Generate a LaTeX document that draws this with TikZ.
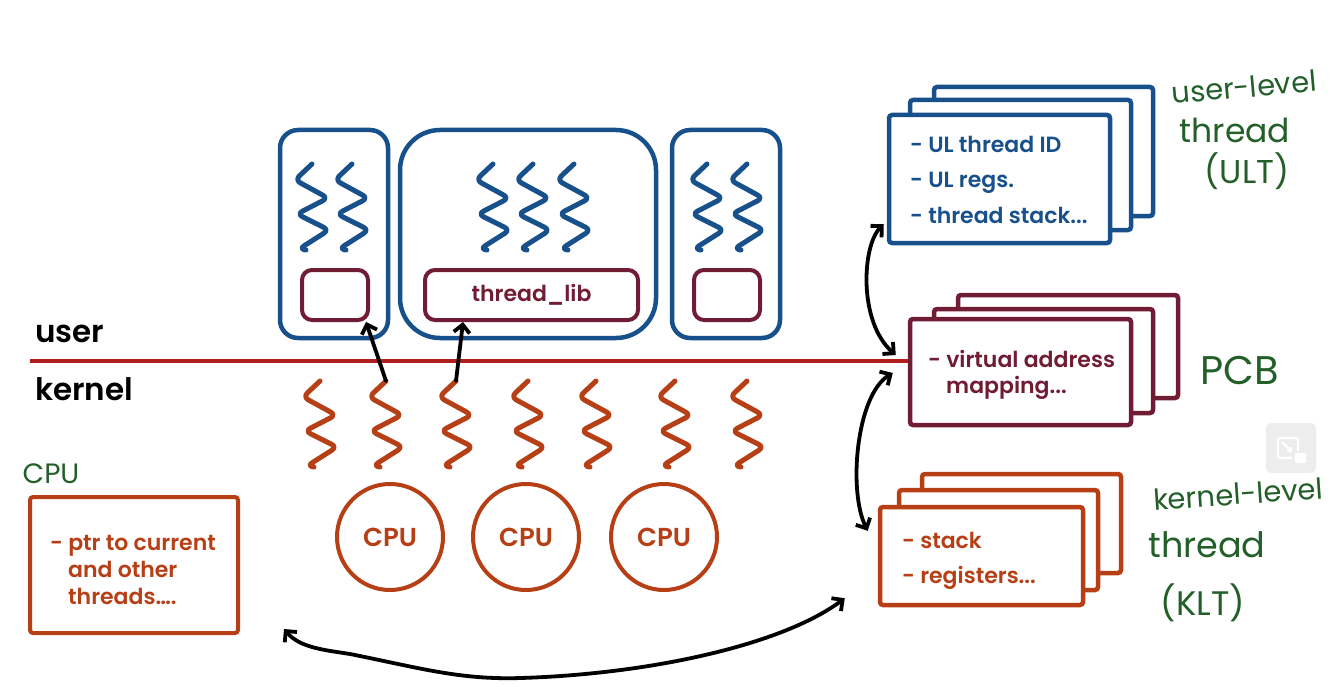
\documentclass[tikz,border=0pt]{standalone}
\usepackage{fontspec}
\setmainfont{Poppins}[BoldFont={* SemiBold}]
\newfontfamily\hand{Poppins}
\usetikzlibrary{arrows.meta}

\definecolor{ulblue}{RGB}{24,80,140}
\definecolor{pcbred}{RGB}{112,28,52}
\definecolor{rust}{RGB}{183,63,22}
\definecolor{linered}{RGB}{178,30,30}
\definecolor{inkgreen}{RGB}{35,95,40}

\begin{document}
\begin{tikzpicture}[x=1pt,y=-1pt,
  procbox/.style={draw=ulblue, line width=4.5pt, fill=white, inner sep=0pt,
    minimum height=208pt},
  libbox/.style={draw=pcbred, line width=4pt, rounded corners=10pt,
    minimum height=50pt, inner sep=0pt, text=pcbred,
    font=\fontsize{22}{22}\selectfont\bfseries},
  cpunode/.style={circle, draw=rust, line width=4pt, minimum size=106pt,
    inner sep=0pt, text=rust, font=\fontsize{26}{26}\selectfont\bfseries},
  card/.style={draw=#1, line width=4.5pt, fill=white, rounded corners=3pt,
    inner sep=0pt},
  cardtext/.style={anchor=base west, inner sep=0pt, text=#1,
    font=\fontsize{22}{22}\selectfont\bfseries},
  layer/.style={anchor=base west, inner sep=0pt,
    font=\fontsize{31}{31}\selectfont\bfseries},
  note/.style={text=inkgreen, inner sep=0pt, font=\fontsize{#1}{#1}\selectfont\hand},
  barb/.tip={Straight Barb[length=8pt,width=16pt]},
  ptr/.style={draw=black, line width=3.8pt, line cap=round, line join=round, -barb},
  dbl/.style={draw=black, line width=3.8pt, line cap=round, line join=round, barb-barb},
  squig/.pic={
    \draw[line width=5pt, line cap=round, line join=round, rounded corners=6pt]
      (18,0) -- (1,16) -- (34,34) -- (3,50) -- (35,66) -- (5,85) -- (12,86);
    \coordinate (-top) at (18,0);
  }
]
% canvas
\fill[white] (0,0) rectangle (1343,687);
\useasboundingbox (0,0) rectangle (1343,687);

% ---------- user-level processes ----------
\node[procbox, rounded corners=18pt, minimum width=108pt] (p1) at (334,234) {};
\node[procbox, rounded corners=40pt, minimum width=256pt] (p2) at (528,234) {};
\node[procbox, rounded corners=18pt, minimum width=108pt] (p3) at (726,234) {};

\node[libbox, minimum width=66pt] (lib1) at (335,295) {};
\node[libbox, minimum width=213pt] (lib2) at (531.5,295) {thread\_lib};
\node[libbox, minimum width=66pt] (lib3) at (727,295) {};

% user threads
\pic[color=ulblue] (u1) at (294,164) {squig};
\pic[color=ulblue] (u2) at (334,164) {squig};
\pic[color=ulblue] (u3) at (475,164) {squig};
\pic[color=ulblue] (u4) at (515,164) {squig};
\pic[color=ulblue] (u5) at (556,164) {squig};
\pic[color=ulblue] (u6) at (689,164) {squig};
\pic[color=ulblue] (u7) at (729,164) {squig};

% ---------- user / kernel boundary ----------
\node[layer] (userlbl) at (35,342) {user};
\node[layer] (kernlbl) at (35,400) {kernel};

% ---------- right-hand data structures ----------
% ULT
\node[card=ulblue, minimum width=219pt, minimum height=129pt] (ult3) at (1043.5,151.5) {};
\node[card=ulblue, minimum width=221pt, minimum height=130pt] (ult2) at (1020.5,165) {};
\node[card=ulblue, minimum width=221pt, minimum height=128pt] (ult) at (999.5,179) {};
\node[cardtext=ulblue] (ult-a) at (910,153) {- UL thread ID};
\node[cardtext=ulblue] (ult-b) at (910,188) {- UL regs.};
\node[cardtext=ulblue] (ult-c) at (910,223) {- thread stack...};

% PCB
\node[card=pcbred, minimum width=220pt, minimum height=103pt] (pcb3) at (1068,346.5) {};
\node[card=pcbred, minimum width=219pt, minimum height=104pt] (pcb2) at (1043.5,361) {};
\node[card=pcbred, minimum width=221pt, minimum height=106pt] (pcb) at (1020.5,372) {};
\node[cardtext=pcbred] (pcb-a) at (928,367) {- virtual address};
\node[cardtext=pcbred] (pcb-b) at (946,393) {mapping...};

% KLT
\node[card=rust, minimum width=199pt, minimum height=99pt] (klt3) at (1021.5,523.5) {};
\node[card=rust, minimum width=199pt, minimum height=100pt] (klt2) at (998.5,540) {};
\node[card=rust, minimum width=203pt, minimum height=98pt] (klt) at (981.5,556) {};
\node[cardtext=rust] (klt-a) at (902,548) {- stack};
\node[cardtext=rust] (klt-b) at (902,583) {- registers...};

% boundary line, ending at the PCB
\coordinate (lineL) at (30,361);
\draw[linered, line width=4pt] (lineL) -- (lineL -| pcb.west);

% kernel threads
\pic[color=rust] (k1) at (302,381) {squig};
\pic[color=rust] (k2) at (368,381) {squig};
\pic[color=rust] (k3) at (438,381) {squig};
\pic[color=rust] (k4) at (510,381) {squig};
\pic[color=rust] (k5) at (578,381) {squig};
\pic[color=rust] (k6) at (657,381) {squig};
\pic[color=rust] (k7) at (729,381) {squig};

% CPUs
\node[cpunode] (cpu1) at (390,537) {CPU};
\node[cpunode] (cpu2) at (526,537) {CPU};
\node[cpunode] (cpu3) at (664,537) {CPU};

% per-CPU state
\node[draw=rust, line width=4pt, rounded corners=3pt, minimum width=208pt,
  minimum height=136pt, inner sep=0pt] (cpubox) at (134,565) {};
\node[cardtext=rust] (cpu-a) at (50,550) {- ptr to current};
\node[cardtext=rust] (cpu-b) at (68,577) {and other};
\node[cardtext=rust] (cpu-c) at (68,604) {threads….};

% ---------- connectors ----------
\draw[ptr] (k2-top) -- ([xshift=-4pt]lib1.south east);
\draw[ptr] (k3-top) -- ([xshift=40pt]lib2.south west);

\draw[dbl] ([xshift=-3pt,yshift=21pt]ult.south west)
  .. controls (862,245) and (858,322) .. ([xshift=-12pt,yshift=17pt]pcb.west);
\draw[dbl] ([xshift=-15pt,yshift=-1pt]pcb.west)
  .. controls (856,395) and (848,492) .. ([xshift=-10pt,yshift=-26pt]klt.north west);
\draw[dbl] ([xshift=44pt,yshift=6pt]cpubox.south east)
  .. controls (300,648) and (325,650) .. (350,654)
  .. controls (420,668) and (460,680) .. (521,678)
  .. controls (650,674) and (782,645) .. ([xshift=-33pt,yshift=9pt]klt.south west);

% ---------- handwritten notes ----------
\node[note=29, rotate=5] (n-ult1) at (1244,87) {user-level};
\node[note=33] (n-ult2) at (1235,130) {thread};
\node[note=33] (n-ult3) at (1247,171) {(ULT)};
\node[note=40] (n-pcb) at (1240,370) {PCB};
\node[note=29, rotate=4] (n-klt1) at (1238,494) {kernel-level};
\node[note=35] (n-klt2) at (1207,545) {thread};
\node[note=34] (n-klt3) at (1203,603) {(KLT)};
\node[note=28] (n-cpu) at (51,474) {CPU};

% ---------- corner control ----------
\fill[black!7, rounded corners=6pt] (1266,423) rectangle (1316,473);
\draw[white, line width=2.2pt, rounded corners=2pt]
  (1298,451) -- (1298,438) -- (1278,438) -- (1278,458) -- (1292,458);
\draw[white, line width=2.2pt, -{Straight Barb[length=3pt,width=6pt]}] (1282,442) -- (1292,452);
\fill[white, rounded corners=1pt] (1295,453) rectangle (1306,463);
\end{tikzpicture}
\end{document}
